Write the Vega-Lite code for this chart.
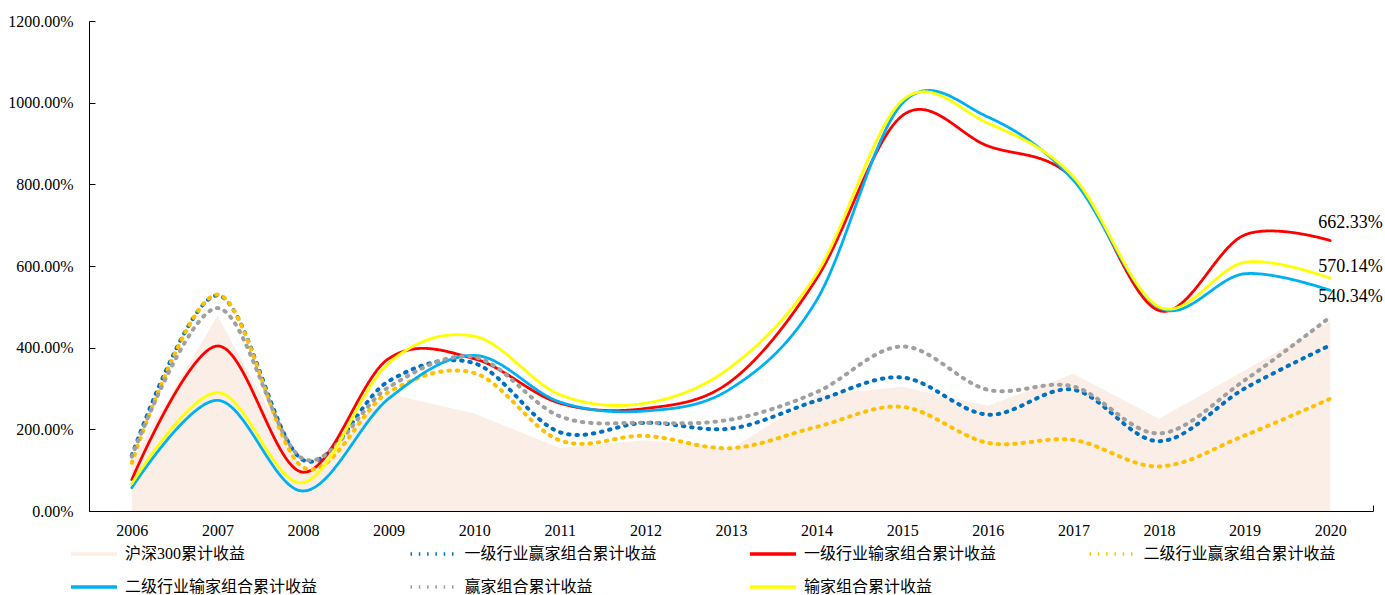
{
  "$schema": "https://vega.github.io/schema/vega-lite/v6.json",
  "width": 1284,
  "height": 490,
  "autosize": {"type": "none"},
  "padding": {"left": 89, "top": 21, "right": 12, "bottom": 84},
  "background": "white",
  "config": {"view": {"stroke": null}, "font": "Liberation Serif"},
  "data": {
    "values": [
      {"year": "2006", "沪深300累计收益": 121, "一级行业赢家组合累计收益": 136, "一级行业输家组合累计收益": 77, "二级行业赢家组合累计收益": 118, "二级行业输家组合累计收益": 57, "赢家组合累计收益": 133, "输家组合累计收益": 67},
      {"year": "2007", "沪深300累计收益": 478, "一级行业赢家组合累计收益": 528, "一级行业输家组合累计收益": 404, "二级行业赢家组合累计收益": 530, "二级行业输家组合累计收益": 271, "赢家组合累计收益": 497, "输家组合累计收益": 290},
      {"year": "2008", "沪深300累计收益": 97, "一级行业赢家组合累计收益": 125, "一级行业输家组合累计收益": 95, "二级行业赢家组合累计收益": 107, "二级行业输家组合累计收益": 49, "赢家组合累计收益": 128, "输家组合累计收益": 69.5},
      {"year": "2009", "沪深300累计收益": 287, "一级行业赢家组合累计收益": 318, "一级行业输家组合累计收益": 373, "二级行业赢家组合累计收益": 291, "二级行业输家组合累计收益": 275, "赢家组合累计收益": 303, "输家组合累计收益": 362},
      {"year": "2010", "沪深300累计收益": 239, "一级行业赢家组合累计收益": 362, "一级行业输家组合累计收益": 373, "二级行业赢家组合累计收益": 338, "二级行业输家组合累计收益": 381, "赢家组合累计收益": 377, "输家组合累计收益": 428},
      {"year": "2011", "沪深300累计收益": 154, "一级行业赢家组合累计收益": 193, "一级行业输家组合累计收益": 264, "二级行业赢家组合累计收益": 173, "二级行业输家组合累计收益": 267, "赢家组合累计收益": 232, "输家组合累计收益": 285},
      {"year": "2012", "沪深300累计收益": 173, "一级行业赢家组合累计收益": 216, "一级行业输家组合累计收益": 251, "二级行业赢家组合累计收益": 184, "二级行业输家组合累计收益": 245, "赢家组合累计收益": 216, "输家组合累计收益": 264},
      {"year": "2013", "沪深300累计收益": 152, "一级行业赢家组合累计收益": 202, "一级行业输家组合累计收益": 318, "二级行业赢家组合累计收益": 154, "二级行业输家组合累计收益": 300, "赢家组合累计收益": 224, "输家组合累计收益": 353},
      {"year": "2014", "沪深300累计收益": 283, "一级行业赢家组合累计收益": 270, "一级行业输家组合累计收益": 569, "二级行业赢家组合累计收益": 206, "二级行业输家组合累计收益": 516, "赢家组合累计收益": 291, "输家组合累计收益": 581},
      {"year": "2015", "沪深300累计收益": 304, "一级行业赢家组合累计收益": 327, "一级行业输家组合累计收益": 968, "二级行业赢家组合累计收益": 255, "二级行业输家组合累计收益": 998, "赢家组合累计收益": 403, "输家组合累计收益": 1005},
      {"year": "2016", "沪深300累计收益": 258, "一级行业赢家组合累计收益": 236, "一级行业输家组合累计收益": 894, "二级行业赢家组合累计收益": 167, "二级行业输家组合累计收益": 965, "赢家组合累计收益": 297, "输家组合累计收益": 950},
      {"year": "2017", "沪深300累计收益": 336, "一级行业赢家组合累计收益": 297, "一级行业输家组合累计收益": 814, "二级行业赢家组合累计收益": 174, "二级行业输家组合累计收益": 810, "赢家组合累计收益": 305, "输家组合累计收益": 818},
      {"year": "2018", "沪深300累计收益": 226, "一级行业赢家组合累计收益": 171, "一级行业输家组合累计收益": 491, "二级行业赢家组合累计收益": 109, "二级行业输家组合累计收益": 498, "赢家组合累计收益": 190, "输家组合累计收益": 500},
      {"year": "2019", "沪深300累计收益": 344, "一级行业赢家组合累计收益": 300, "一级行业输家组合累计收益": 676, "二级行业赢家组合累计收益": 185, "二级行业输家组合累计收益": 581, "赢家组合累计收益": 320, "输家组合累计收益": 609},
      {"year": "2020", "沪深300累计收益": 464, "一级行业赢家组合累计收益": 406, "一级行业输家组合累计收益": 662.33, "二级行业赢家组合累计收益": 275, "二级行业输家组合累计收益": 540.34, "赢家组合累计收益": 475, "输家组合累计收益": 570.14}
    ]
  },
  "transform": [
    {"fold": ["沪深300累计收益", "一级行业赢家组合累计收益", "一级行业输家组合累计收益", "二级行业赢家组合累计收益", "二级行业输家组合累计收益", "赢家组合累计收益", "输家组合累计收益"], "as": ["series", "value"]}
  ],
  "encoding": {
    "x": {
      "field": "year", "type": "ordinal", "bandPosition": 0.5,
      "scale": {"type": "band", "paddingInner": 0, "paddingOuter": 0},
      "axis": {"title": null, "labelAngle": 0, "grid": false, "tickBand": "extent", "tickSize": -6, "labelPadding": 17,
               "domainColor": "#000", "tickColor": "#000", "labelColor": "#000", "labelFont": "Liberation Serif", "labelFontSize": 16}
    },
    "y": {
      "field": "value", "type": "quantitative",
      "scale": {"domain": [0, 1200], "nice": false},
      "axis": {"title": null, "grid": false, "values": [0, 200, 400, 600, 800, 1000, 1200], "tickSize": -6, "labelPadding": 22,
               "labelExpr": "format(datum.value, '.2f') + '%'",
               "domainColor": "#000", "tickColor": "#000", "labelColor": "#000", "labelFont": "Liberation Serif", "labelFontSize": 16}
    }
  },
  "layer": [
    {
      "transform": [{"filter": "datum.series === '沪深300累计收益'"}],
      "mark": {"type": "area", "opacity": 1},
      "encoding": {
        "color": {
          "field": "series", "type": "nominal",
          "scale": {
            "domain": ["沪深300累计收益", "一级行业赢家组合累计收益", "一级行业输家组合累计收益", "二级行业赢家组合累计收益", "二级行业输家组合累计收益", "赢家组合累计收益", "输家组合累计收益"],
            "range": ["#FBEEE6", "#0070C0", "#FF0000", "#FFC000", "#00B0F0", "#A0A0A0", "#FFFF00"]
          },
          "legend": {
            "orient": "none", "legendX": -20, "legendY": 508, "direction": "horizontal", "columns": 4, "title": null,
            "padding": 0, "symbolType": "stroke", "symbolSize": 2116, "symbolStrokeWidth": 3.5,
            "labelFont": "Liberation Serif, Noto Sans CJK SC", "labelFontSize": 16, "labelColor": "#000", "labelOffset": 6,
            "labelLimit": 400, "columnPadding": 85.5, "rowPadding": -11, "gridAlign": "all"
          }
        }
      }
    },
    {
      "transform": [{"filter": "datum.series !== '沪深300累计收益'"}],
      "mark": {"type": "line", "interpolate": "cardinal", "strokeCap": "round"},
      "encoding": {
        "color": {
          "field": "series", "type": "nominal",
          "legend": {
            "orient": "none", "legendX": -20, "legendY": 508, "direction": "horizontal", "columns": 4, "title": null,
            "padding": 0, "symbolType": "stroke", "symbolSize": 2116, "symbolStrokeWidth": 3.5,
            "labelFont": "Liberation Serif, Noto Sans CJK SC", "labelFontSize": 16, "labelColor": "#000", "labelOffset": 6,
            "labelLimit": 400, "columnPadding": 85.5, "rowPadding": -11, "gridAlign": "all"
          }
        },
        "strokeDash": {
          "field": "series", "type": "nominal",
          "scale": {
            "domain": ["沪深300累计收益", "一级行业赢家组合累计收益", "一级行业输家组合累计收益", "二级行业赢家组合累计收益", "二级行业输家组合累计收益", "赢家组合累计收益", "输家组合累计收益"],
            "range": [[1, 0], [1.5, 6.8], [1, 0], [1.5, 6.8], [1, 0], [1.5, 6.8], [1, 0]]
          },
          "legend": {
            "orient": "none", "legendX": -20, "legendY": 508, "direction": "horizontal", "columns": 4, "title": null,
            "padding": 0, "symbolType": "stroke", "symbolSize": 2116, "symbolStrokeWidth": 3.5,
            "labelFont": "Liberation Serif, Noto Sans CJK SC", "labelFontSize": 16, "labelColor": "#000", "labelOffset": 6,
            "labelLimit": 400, "columnPadding": 85.5, "rowPadding": -11, "gridAlign": "all"
          }
        },
        "strokeWidth": {"condition": {"test": "test(/赢家/, datum.series)", "value": 4}, "value": 2.8}
      }
    },
    {
      "transform": [{"filter": "datum.series === '一级行业输家组合累计收益' && datum.year === '2020'"}, {"calculate": "format(datum.value, '.2f') + '%'", "as": "label"}],
      "mark": {"type": "text", "align": "left", "baseline": "middle", "dx": -12, "dy": -18, "fontSize": 18, "font": "Liberation Serif", "color": "#000"},
      "encoding": {"text": {"field": "label"}}
    },
    {
      "transform": [{"filter": "datum.series === '输家组合累计收益' && datum.year === '2020'"}, {"calculate": "format(datum.value, '.2f') + '%'", "as": "label"}],
      "mark": {"type": "text", "align": "left", "baseline": "middle", "dx": -12, "dy": -11, "fontSize": 18, "font": "Liberation Serif", "color": "#000"},
      "encoding": {"text": {"field": "label"}}
    },
    {
      "transform": [{"filter": "datum.series === '二级行业输家组合累计收益' && datum.year === '2020'"}, {"calculate": "format(datum.value, '.2f') + '%'", "as": "label"}],
      "mark": {"type": "text", "align": "left", "baseline": "middle", "dx": -12, "dy": 7, "fontSize": 18, "font": "Liberation Serif", "color": "#000"},
      "encoding": {"text": {"field": "label"}}
    }
  ]
}
